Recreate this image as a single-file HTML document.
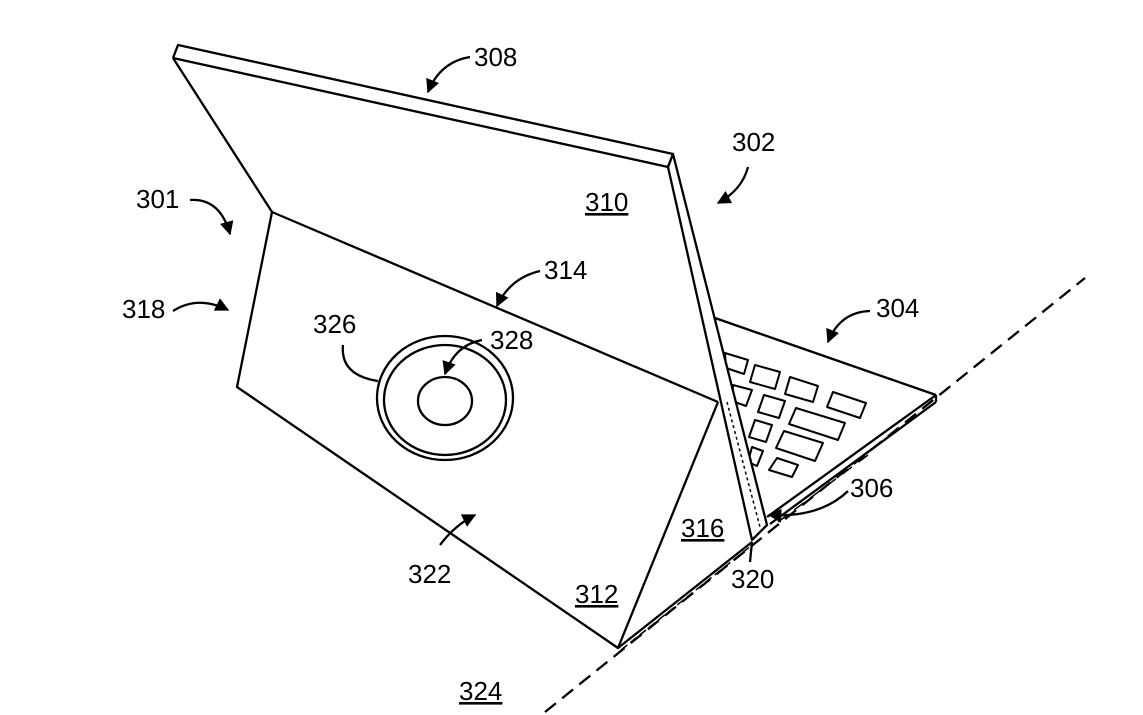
<!DOCTYPE html>
<html><head><style>
html,body{margin:0;padding:0;background:#fff;}
svg{display:block}
text{font-family:"Liberation Sans",Arial,sans-serif;font-size:26px;fill:#000}
</style></head><body>
<svg width="1143" height="715" viewBox="0 0 1143 715" xmlns="http://www.w3.org/2000/svg">
<defs><marker id="a" viewBox="0 0 10 10" refX="9" refY="5" markerWidth="6" markerHeight="6" orient="auto"><path d="M0,0 L10,5 L0,10 z" fill="#000"/></marker></defs>
<g fill="none" stroke="#000" stroke-width="2.3" stroke-linejoin="round">
<line x1="545" y1="712" x2="1085" y2="278" stroke-dasharray="14,8"/>
<g stroke-width="2">
<polygon points="725,353 748,360 744,374 726,368"/>
<polygon points="755,365 780,372 775,389 750,382"/>
<polygon points="790,377 818,386 813,402 785,394"/>
<polygon points="833,392 866,403 860,418 827,407"/>
<polygon points="733,385 752,390 746,406 732,401"/>
<polygon points="764,395 785,401 779,418 758,412"/>
<polygon points="796,408 845,423 838,440 789,424"/>
<polygon points="755,420 772,425 766,442 749,437"/>
<polygon points="784,431 823,443 815,461 776,448"/>
<polygon points="752,447 763,451 757,466 748,462"/>
<polygon points="777,458 798,465 792,477 769,470"/>
</g>
<polygon points="673,154 767,525 752,540 668,167" fill="#fff"/>
<polyline points="173,58 178,45 673,154 668,167 173,58"/>
<polyline points="173,58 272,212"/>
<line x1="727" y1="402" x2="760" y2="527" stroke-dasharray="3,3" stroke-width="1.5"/>
<polyline points="272,212 237,387 618,648 718,402"/>
<line x1="272" y1="212" x2="718" y2="402"/>
<line x1="618" y1="648" x2="752" y2="542"/>
<line x1="621" y1="650" x2="752" y2="545" stroke-dasharray="8,4" stroke-width="1.5"/>
<line x1="715" y1="318" x2="936" y2="395"/>
<line x1="936" y1="395" x2="767" y2="517"/>
<line x1="936" y1="402" x2="770" y2="524"/>
<line x1="936" y1="395" x2="936" y2="402"/>
<line x1="868" y1="455" x2="778" y2="522" stroke-dasharray="12,8" stroke-width="1.5"/>
<ellipse cx="445" cy="398" rx="68" ry="62"/>
<ellipse cx="445" cy="400" rx="61" ry="55"/>
<ellipse cx="445" cy="401" rx="27" ry="24"/>
<path d="M470,57 Q440,62 428,92" marker-end="url(#a)"/>
<path d="M748,167 Q742,190 718,203" marker-end="url(#a)"/>
<path d="M190,200 Q220,198 230,234" marker-end="url(#a)"/>
<path d="M173,311 Q198,295 228,310" marker-end="url(#a)"/>
<path d="M540,271 Q510,278 497,306" marker-end="url(#a)"/>
<path d="M870,311 Q840,312 828,342" marker-end="url(#a)"/>
<path d="M343,345 Q340,375 378,381" />
<path d="M482,340 Q455,345 445,374" marker-end="url(#a)"/>
<path d="M848,491 Q820,518 769,515" marker-end="url(#a)"/>
<path d="M440,545 Q455,525 475,515" marker-end="url(#a)"/>
<line x1="752" y1="542" x2="750" y2="562"/>
</g>
<text x="474" y="66">308</text>
<text x="732" y="151">302</text>
<text x="136" y="208">301</text>
<text x="122" y="318">318</text>
<text x="544" y="279">314</text>
<text x="876" y="317">304</text>
<text x="313" y="333">326</text>
<text x="490" y="349">328</text>
<text x="850" y="497">306</text>
<text x="408" y="583">322</text>
<text x="731" y="588">320</text>
<text x="585" y="211" text-decoration="underline">310</text>
<text x="681" y="537" text-decoration="underline">316</text>
<text x="575" y="603" text-decoration="underline">312</text>
<text x="459" y="700" text-decoration="underline">324</text>
</svg>
</body></html>
